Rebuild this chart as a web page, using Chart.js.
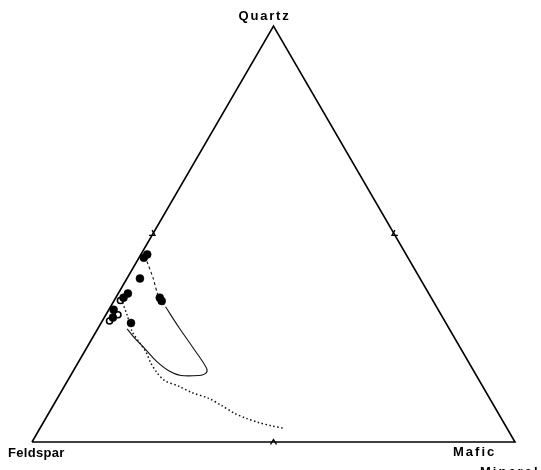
<!DOCTYPE html>
<html>
<head>
<meta charset="utf-8">
<script src="https://cdn.jsdelivr.net/npm/chart.js@4/dist/chart.umd.min.js"></script>
<style>
  html, body { margin: 0; padding: 0; background: #fff; }
  #wrap { width: 541px; height: 470px; }
</style>
</head>
<body>
<div id="wrap"><canvas id="qfm"></canvas></div>
<script>
// Modal compositions in percent: Quartz (Q) and Mafic mineral (M); Feldspar is 100 - Q - M.
const filledQuartz = [44.3, 45.1, 39.3, 35.7, 34.7, 34.7, 33.9, 31.8, 29.9, 28.6];
const filledMafic  = [ 1.0,  1.3,  2.7,  2.0,  1.6,  9.1,  9.9,  1.0,  1.8,  6.2];
const openQuartz   = [34.0, 30.6, 29.1];
const openMafic    = [ 1.3,  2.5,  1.5];

// Field boundary: dashed upper limb, then the solid lower loop
const limbQuartz = [43.4, 39.5, 35.1, 32.5];
const limbMafic  = [ 2.1,  5.3,  8.6, 11.4];
const loopQuartz = [32.5, 27.4, 22.3, 17.7, 16.5, 16.0, 16.0, 17.0, 19.4, 22.4, 24.8, 27.2];
const loopMafic  = [11.4, 16.8, 22.4, 27.3, 27.7, 26.5, 22.8, 20.0, 16.1, 12.2,  9.0,  6.1];

// Dotted trend
const trendQuartz = [33.5, 30.3, 26.5, 24.0, 21.6, 19.0, 16.8, 14.8, 13.4, 11.9, 10.5, 8.8, 6.8, 5.8, 4.7, 3.9, 3.3];
const trendMafic  = [ 2.0,  4.6,  7.5, 10.2, 12.8, 15.1, 17.4, 20.0, 23.7, 27.1, 31.3, 34.8, 38.7, 41.2, 44.5, 47.6, 50.4];

// Apex compositions [Q, M] for the triangle outline and the edge midpoints
const cornerQuartz = [0, 0, 100, 0];
const cornerMafic  = [0, 100, 0, 0];
const midQuartz = [0, 50, 50];
const midMafic  = [50, 50, 0];

const vertexNames = { top: 'Quartz', left: 'Feldspar', right: ['Mafic', 'Mineral'] };

const H = Math.sqrt(3) / 2;
// ternary (Q, M) -> cartesian, with Feldspar at the origin and Mafic at x = 100
function toXY(q, m) { return { x: m + q / 2, y: q * H }; }
function pts(qs, ms) { return qs.map((q, i) => toXY(q, ms[i])); }

const FONT = '"Liberation Sans", Arial, sans-serif';

const decorPlugin = {
  id: 'decor',
  afterDatasetsDraw(chart) {
    const { ctx, scales: { x, y } } = chart;
    const px = p => ({ x: x.getPixelForValue(p.x), y: y.getPixelForValue(p.y) });
    const centre = px(toXY(100 / 3, 100 / 3));

    // inward chevrons straddling the middle of each edge
    ctx.save();
    ctx.strokeStyle = '#000';
    ctx.lineWidth = 1.4;
    midQuartz.forEach((q, i) => {
      const p = px(toXY(q, midMafic[i]));
      const dx = centre.x - p.x, dy = centre.y - p.y;
      const len = Math.hypot(dx, dy);
      const ux = dx / len, uy = dy / len;
      ctx.beginPath();
      ctx.moveTo(p.x - uy * 3 - ux * 2.5, p.y + ux * 3 - uy * 2.5);
      ctx.lineTo(p.x + ux * 2.5, p.y + uy * 2.5);
      ctx.lineTo(p.x + uy * 3 - ux * 2.5, p.y - ux * 3 - uy * 2.5);
      ctx.stroke();
    });
    ctx.restore();

    // apex names
    ctx.save();
    ctx.fillStyle = '#000';
    ctx.font = 'bold 13px ' + FONT;
    ctx.textBaseline = 'alphabetic';
    const top = px(toXY(100, 0));
    const left = px(toXY(0, 0));
    const right = px(toXY(0, 100));
    ctx.textAlign = 'left';
    ctx.letterSpacing = '1.8px';
    ctx.fillText(vertexNames.top, top.x - 35, top.y - 6);
    ctx.letterSpacing = '0.3px';
    ctx.fillText(vertexNames.left, left.x - 24, left.y + 15);
    ctx.letterSpacing = '2px';
    ctx.fillText(vertexNames.right[0], right.x - 62, right.y + 14);
    ctx.fillText(vertexNames.right[1], right.x - 35, right.y + 34);
    ctx.restore();
  }
};

new Chart(document.getElementById('qfm'), {
  type: 'scatter',
  data: {
    datasets: [
      {
        label: 'outline',
        data: pts(cornerQuartz, cornerMafic),
        showLine: true, borderColor: '#000', borderWidth: 1.6,
        pointRadius: 0, tension: 0, clip: false
      },
      {
        label: 'trend',
        data: pts(trendQuartz, trendMafic),
        showLine: true, borderColor: '#111', borderWidth: 1.5,
        borderDash: [1.5, 2.5], pointRadius: 0, tension: 0.3, clip: false
      },
      {
        label: 'limb',
        data: pts(limbQuartz, limbMafic),
        showLine: true, borderColor: '#111', borderWidth: 1.1,
        borderDash: [3, 2.5], pointRadius: 0, tension: 0.2, clip: false
      },
      {
        label: 'loop',
        data: pts(loopQuartz, loopMafic),
        showLine: true, borderColor: '#111', borderWidth: 1.1,
        pointRadius: 0, tension: 0.35, clip: false
      },
      {
        label: 'filled',
        data: pts(filledQuartz, filledMafic),
        pointRadius: 4, pointBackgroundColor: '#000', pointBorderColor: '#000',
        pointBorderWidth: 0.5, clip: false
      },
      {
        label: 'open',
        data: pts(openQuartz, openMafic),
        pointRadius: 3, pointBackgroundColor: '#fff', pointBorderColor: '#000',
        pointBorderWidth: 1.6, clip: false
      }
    ]
  },
  options: {
    responsive: true,
    maintainAspectRatio: false,
    animation: false,
    layout: { padding: { left: 32, right: 26, top: 26, bottom: 28 } },
    scales: {
      x: { type: 'linear', min: 0, max: 100, display: false },
      y: { type: 'linear', min: 0, max: 100 * H, display: false }
    },
    plugins: { legend: { display: false }, tooltip: { enabled: false } }
  },
  plugins: [decorPlugin]
});
</script>
</body>
</html>
